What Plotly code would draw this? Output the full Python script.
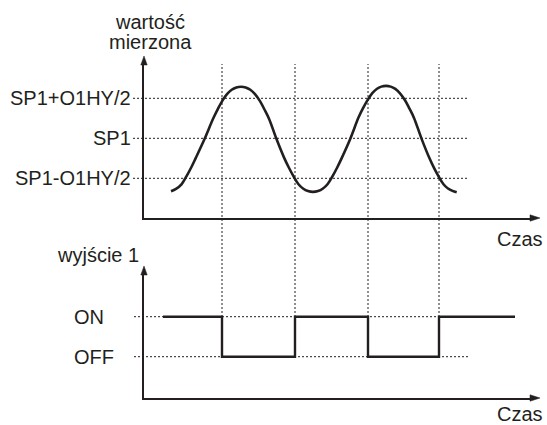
import plotly.graph_objects as go

W, H = 547, 425
INK = "#231f20"
FONT = "Liberation Sans, Arial, sans-serif"

# ---- data ----
top_levels = [1, 0, -1]
top_labels = ["SP1+O1HY/2", "SP1", "SP1-O1HY/2"]
curve_t = [2.7, 3.2, 3.75, 4.27, 4.72, 5.17, 6.03, 6.93, 7.38, 7.83, 8.3, 8.77, 9.23, 9.7,
           10.17, 10.63, 11.1, 11.6, 12.05, 12.5, 13.27, 14.03, 14.48, 14.93, 15.45, 15.9, 16.4, 16.9,
           17.4, 17.9, 18.35, 18.87, 19.32, 19.77, 20.6, 21.47, 21.92, 22.37, 22.83, 23.27, 23.73, 24.2,
           24.67, 25.13, 25.6, 26.1, 26.55, 27.0, 27.77, 28.55, 29.0, 29.43, 29.95, 30.4, 30.85, 31.27]
curve_v = [-1.325, -1.265, -1.15, -0.94, -0.73, -0.495, -0.03, 0.50, 0.73, 0.937, 1.105, 1.214, 1.272, 1.29,
           1.272, 1.214, 1.105, 0.93, 0.72, 0.49, -0.03, -0.495, -0.73, -0.94, -1.15, -1.255, -1.32, -1.34,
           -1.32, -1.255, -1.15, -0.94, -0.73, -0.495, -0.03, 0.53, 0.76, 0.96, 1.13, 1.234, 1.292, 1.31,
           1.292, 1.234, 1.125, 0.95, 0.74, 0.51, -0.02, -0.50, -0.74, -0.94, -1.15, -1.255, -1.315, -1.35]
switch_t = [7.8, 15.1, 22.4, 29.5]
step_t = [1.9, 7.8, 15.1, 22.4, 29.5, 37.1]
step_v = [1, 0, 1, 0, 1, 1]
out_levels = [1, 0]
out_labels = ["ON", "OFF"]
y_title_top = ["wartość", "mierzona"]
y_title_bottom = "wyjście 1"
x_title = "Czas"


def PX(x):
    return x / W


def PY(y):
    return 1 - y / H


fig = go.Figure()
fig.add_trace(go.Scatter(x=curve_t, y=curve_v, mode="lines",
                         line=dict(color=INK, width=2.6, shape="spline", smoothing=1.0, simplify=False),
                         xaxis="x", yaxis="y", hoverinfo="skip"))
fig.add_trace(go.Scatter(x=step_t, y=step_v, mode="lines",
                         line=dict(color=INK, width=2.4, shape="hv"),
                         xaxis="x2", yaxis="y2", hoverinfo="skip"))

ax_common = dict(showgrid=False, zeroline=False, showticklabels=False, ticks="",
                 showline=True, linewidth=2.4, linecolor=INK, fixedrange=True)
xdom = [PX(144), PX(531)]
xr = [0, (531 - 144) / 10]
fig.update_layout(
    xaxis=dict(domain=xdom, range=xr, anchor="y", **ax_common),
    yaxis=dict(domain=[PY(218), PY(62)], range=[(138.3 - 218) / 40, (138.3 - 62) / 40], anchor="x", **ax_common),
    xaxis2=dict(domain=xdom, range=xr, anchor="y2", **ax_common),
    yaxis2=dict(domain=[PY(398), PY(273)], range=[(356.7 - 398) / 40, (356.7 - 273) / 40], anchor="x2", **ax_common),
)

shapes = []
dot = dict(color=INK, width=1, dash="2px,2px")
for lv in top_levels:
    shapes.append(dict(type="line", xref="paper", yref="y", x0=PX(133), x1=PX(468), y0=lv, y1=lv,
                       line=dot, layer="below"))
for lv in out_levels:
    shapes.append(dict(type="line", xref="paper", yref="y2", x0=PX(134), x1=PX(468), y0=lv, y1=lv,
                       line=dot, layer="below"))
for t in switch_t:
    shapes.append(dict(type="line", xref="x", yref="paper", x0=t, x1=t, y0=PY(317), y1=PY(64),
                       line=dot, layer="below"))


def tri(points):
    d = "M " + " L ".join(f"{PX(x)},{PY(y)}" for x, y in points) + " Z"
    return dict(type="path", xref="paper", yref="paper", path=d, fillcolor=INK,
                line=dict(color=INK, width=0.5))


shapes += [
    tri([(144, 56), (140.8, 65), (147.2, 65)]),
    tri([(144, 266), (140.8, 275), (147.2, 275)]),
    tri([(540, 218), (530, 214.8), (530, 221.2)]),
    tri([(540, 398), (530, 394.8), (530, 401.2)]),
]
fig.update_layout(shapes=shapes)

ann = []
f = dict(family=FONT, size=20, color=INK)
for lv, lab in zip(top_levels, top_labels):
    ann.append(dict(xref="paper", yref="y", x=PX(133), y=lv, text=lab, showarrow=False,
                    xanchor="right", yanchor="middle", font=f))
for lv, lab in zip(out_levels, out_labels):
    ann.append(dict(xref="paper", yref="y2", x=PX(72), y=lv, text=lab, showarrow=False,
                    xanchor="left", yanchor="middle", font=f))
ann.append(dict(xref="paper", yref="paper", x=PX(150), y=PY(22), text=y_title_top[0], showarrow=False,
                xanchor="center", yanchor="middle", font=f))
ann.append(dict(xref="paper", yref="paper", x=PX(150), y=PY(42), text=y_title_top[1], showarrow=False,
                xanchor="center", yanchor="middle", font=f))
ann.append(dict(xref="paper", yref="paper", x=PX(141), y=PY(255), text=y_title_bottom, showarrow=False,
                xanchor="right", yanchor="middle", font=f))
ann.append(dict(xref="paper", yref="paper", x=PX(520), y=PY(239), text=x_title, showarrow=False,
                xanchor="center", yanchor="middle", font=f))
ann.append(dict(xref="paper", yref="paper", x=PX(520), y=PY(414), text=x_title, showarrow=False,
                xanchor="center", yanchor="middle", font=f))

fig.update_layout(annotations=ann, width=W, height=H, margin=dict(l=0, r=0, t=0, b=0),
                  paper_bgcolor="white", plot_bgcolor="rgba(0,0,0,0)", showlegend=False)

fig.write_html("out.html", config={"displayModeBar": False},
               post_script="document.body.style.margin='0';document.body.style.overflow='hidden';")
